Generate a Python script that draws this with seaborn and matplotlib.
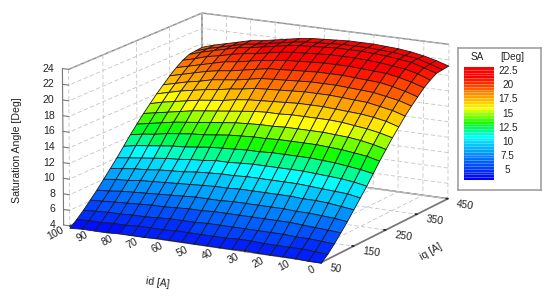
import matplotlib
matplotlib.use('Agg')
import matplotlib.pyplot as plt
from matplotlib.transforms import blended_transform_factory
from mpl_toolkits.mplot3d import proj3d
import seaborn as sns
import numpy as np

id_values = [100, 95, 90, 85, 80, 75, 70, 65, 60, 55, 50, 45, 40, 35, 30, 25, 20, 15, 10, 5, 0]
iq_values = [50, 70, 90, 110, 130, 150, 170, 190, 210, 230, 250, 270, 290, 310, 330, 350, 370, 390, 410, 430, 450]

# one row per iq, one column per id
saturation_angle = [
    [3.7, 3.8, 3.8, 3.8, 3.9, 3.9, 3.9, 4.0, 4.0, 4.0, 4.0, 4.0, 4.0, 4.0, 4.1, 4.0, 4.0, 4.0, 4.0, 3.9, 3.9],
    [4.4, 4.5, 4.5, 4.6, 4.6, 4.7, 4.7, 4.7, 4.8, 4.8, 4.8, 4.8, 4.8, 4.9, 4.9, 4.8, 4.8, 4.8, 4.8, 4.7, 4.6],
    [5.2, 5.3, 5.4, 5.4, 5.5, 5.5, 5.6, 5.7, 5.7, 5.7, 5.8, 5.8, 5.8, 5.8, 5.8, 5.8, 5.8, 5.7, 5.7, 5.6, 5.5],
    [6.1, 6.2, 6.3, 6.4, 6.5, 6.6, 6.6, 6.7, 6.8, 6.8, 6.9, 6.9, 6.9, 6.9, 6.9, 6.9, 6.9, 6.8, 6.7, 6.6, 6.5],
    [7.0, 7.1, 7.3, 7.4, 7.5, 7.6, 7.7, 7.8, 7.9, 7.9, 7.9, 8.0, 8.0, 8.0, 8.0, 8.0, 7.9, 7.9, 7.8, 7.7, 7.5],
    [8.0, 8.2, 8.3, 8.5, 8.6, 8.7, 8.8, 8.9, 9.0, 9.1, 9.1, 9.2, 9.2, 9.2, 9.2, 9.2, 9.1, 9.1, 9.0, 8.8, 8.6],
    [9.0, 9.2, 9.4, 9.5, 9.7, 9.8, 9.9, 10.1, 10.2, 10.3, 10.3, 10.4, 10.4, 10.4, 10.4, 10.4, 10.3, 10.2, 10.1, 10.0, 9.7],
    [10.0, 10.2, 10.4, 10.6, 10.8, 10.9, 11.1, 11.2, 11.4, 11.4, 11.5, 11.6, 11.6, 11.6, 11.6, 11.6, 11.5, 11.4, 11.3, 11.1, 10.8],
    [11.1, 11.4, 11.6, 11.8, 12.0, 12.1, 12.3, 12.5, 12.6, 12.7, 12.8, 12.8, 12.9, 12.9, 12.9, 12.9, 12.8, 12.7, 12.5, 12.3, 12.0],
    [12.2, 12.5, 12.7, 13.0, 13.2, 13.4, 13.5, 13.7, 13.9, 14.0, 14.1, 14.1, 14.2, 14.2, 14.2, 14.2, 14.1, 14.0, 13.8, 13.6, 13.2],
    [13.2, 13.5, 13.8, 14.1, 14.3, 14.5, 14.7, 14.9, 15.1, 15.2, 15.3, 15.3, 15.4, 15.4, 15.4, 15.4, 15.3, 15.2, 15.0, 14.7, 14.3],
    [14.2, 14.5, 14.8, 15.1, 15.4, 15.6, 15.8, 16.0, 16.2, 16.4, 16.5, 16.5, 16.6, 16.6, 16.6, 16.6, 16.5, 16.3, 16.1, 15.8, 15.4],
    [15.1, 15.5, 15.8, 16.1, 16.4, 16.6, 16.8, 17.1, 17.3, 17.4, 17.5, 17.6, 17.7, 17.7, 17.7, 17.6, 17.5, 17.4, 17.2, 16.9, 16.4],
    [16.0, 16.4, 16.8, 17.1, 17.4, 17.6, 17.9, 18.1, 18.4, 18.5, 18.6, 18.7, 18.8, 18.8, 18.8, 18.7, 18.6, 18.5, 18.2, 17.9, 17.4],
    [16.8, 17.2, 17.6, 17.9, 18.3, 18.5, 18.7, 19.0, 19.3, 19.4, 19.5, 19.6, 19.7, 19.7, 19.7, 19.6, 19.5, 19.4, 19.1, 18.8, 18.3],
    [17.6, 18.0, 18.4, 18.8, 19.1, 19.3, 19.6, 19.9, 20.2, 20.3, 20.4, 20.5, 20.6, 20.6, 20.6, 20.5, 20.4, 20.3, 20.0, 19.6, 19.1],
    [18.3, 18.7, 19.1, 19.5, 19.9, 20.1, 20.4, 20.7, 20.9, 21.1, 21.2, 21.3, 21.4, 21.4, 21.4, 21.3, 21.2, 21.1, 20.8, 20.4, 19.9],
    [18.9, 19.3, 19.8, 20.1, 20.5, 20.8, 21.0, 21.3, 21.6, 21.8, 21.9, 22.0, 22.1, 22.1, 22.1, 22.0, 21.9, 21.7, 21.5, 21.1, 20.5],
    [19.3, 19.8, 20.2, 20.6, 21.0, 21.2, 21.5, 21.8, 22.1, 22.3, 22.4, 22.5, 22.6, 22.6, 22.6, 22.5, 22.4, 22.2, 22.0, 21.5, 21.0],
    [19.4, 19.9, 20.3, 20.7, 21.1, 21.3, 21.6, 21.9, 22.2, 22.4, 22.5, 22.6, 22.7, 22.7, 22.7, 22.6, 22.5, 22.3, 22.1, 21.6, 21.1],
    [19.5, 20.0, 20.4, 20.8, 21.2, 21.4, 21.7, 22.0, 22.3, 22.5, 22.6, 22.7, 22.8, 22.8, 22.8, 22.7, 22.6, 22.4, 22.1, 21.7, 21.2],
]

id_ticks = [100, 90, 80, 70, 60, 50, 40, 30, 20, 10, 0]
iq_ticks = [50, 150, 250, 350, 450]
z_ticks = [4, 6, 8, 10, 12, 14, 16, 18, 20, 22, 24]
legend_levels = [23.0 - 0.5 * i for i in range(40)]
legend_ticks = [22.5, 20, 17.5, 15, 12.5, 10, 7.5, 5]

sns.set_theme(style='white')
plt.rcParams['font.family'] = ['Liberation Sans', 'DejaVu Sans']
TEXT = '#222222'
AXIS_GREY = '#777777'
Z_MIN, Z_MAX = 3.5, 23.0


def frac(z):
    return (z - Z_MIN) / (Z_MAX - Z_MIN)


cmap = matplotlib.colors.LinearSegmentedColormap.from_list('sa', [
    (0.0, '#0000ff'), (frac(7.5), '#0080ff'), (frac(11), '#00ffff'), (frac(13.3), '#00ff00'),
    (frac(16), '#ffff00'), (frac(18.5), '#ff8c00'), (frac(21.5), '#ff0000'), (1.0, '#ff0000')])


def band_colour(z):
    # 0.5 deg colour bands, same as the legend
    return cmap(frac(np.round(np.asarray(z) * 2) / 2))


fig = plt.figure(figsize=(5.5, 2.96), dpi=100)
ax = fig.add_axes([-0.0795, -0.1705, 1.085, 1.393], projection='3d')

X, Y = np.meshgrid(id_values, iq_values)
Z = np.array(saturation_angle)
cells = (Z[:-1, :-1] + Z[1:, :-1] + Z[:-1, 1:] + Z[1:, 1:]) / 4
ax.plot_surface(X, Y, Z, facecolors=band_colour(cells), edgecolor='#1a1a1a', linewidth=0.6,
                shade=False, rstride=1, cstride=1, antialiased=True)

ax.set_xlim(100, 0)
ax.set_ylim(50, 450)
ax.set_zlim(4, 24)
ax.set_proj_type('persp', focal_length=3)
ax.view_init(elev=14.5, azim=-61.5)
ax.set_box_aspect((286, 275, 162), zoom=1.0)

for axis in (ax.xaxis, ax.yaxis, ax.zaxis):
    axis.set_pane_color((1, 1, 1, 1))
    axis.pane.set_edgecolor('#8a8a8a')
    axis._axinfo['grid'].update(color='#c4c4c4', linewidth=0.6, linestyle=(0, (5, 3)))
    axis.line.set_color(AXIS_GREY)
    axis._axinfo['tick'].update(inward_factor=0.0, outward_factor=0.08)

ax.set_xticks(id_ticks)
ax.set_yticks(iq_ticks)
ax.set_zticks(z_ticks)
ax.set_xticklabels(id_ticks, rotation=28, fontsize=7.6, color=TEXT, ha='right', va='center')
ax.set_yticklabels(iq_ticks, rotation=-8, fontsize=7.6, color=TEXT, ha='left', va='center')
ax.tick_params(axis='x', pad=-3)
ax.tick_params(axis='y', pad=-3)

# the z scale sits on the left corner of the box, mplot3d would put it on the right
ax.set_zticklabels([])
ax.zaxis.line.set_visible(False)
ax.zaxis._axinfo['tick'].update(inward_factor=0.0, outward_factor=0.0)
ax.plot([102.5, 102.5], [50, 50], [z_ticks[0], z_ticks[-1]], color=AXIS_GREY, linewidth=0.8)
fig.canvas.draw()
for z in z_ticks:
    ax.plot([100, 102.5], [50, 50], [z, z], color=AXIS_GREY, linewidth=0.8)
    px, py, _ = proj3d.proj_transform(102.5, 50, z, ax.get_proj())
    ax.annotate(str(z), (px, py), xytext=(-6, 0), textcoords='offset points', ha='right', va='center',
                fontsize=7.6, color=TEXT, annotation_clip=False)

fig.text(158 / 550, 1 - 283 / 296, 'id [A]', fontsize=7.6, color=TEXT, rotation=-8, ha='center', va='center')
fig.text(431 / 550, 1 - 252 / 296, 'iq [A]', fontsize=7.6, color=TEXT, rotation=30, ha='center', va='center')
fig.text(17 / 550, 1 - 150 / 296, 'Saturation Angle [Deg]', fontsize=7.6, color=TEXT, rotation=90,
         ha='center', va='center')

# legend box
box = fig.add_axes([458 / 550, 1 - 190 / 296, 83 / 550, 142 / 296])
box.set_xticks([])
box.set_yticks([])
box.set_facecolor('white')
for spine in box.spines.values():
    spine.set_color('#a0a0a0')
    spine.set_linewidth(1.2)
box.text(0.23, 0.937, 'SA', ha='center', va='center', fontsize=7.2, color=TEXT, transform=box.transAxes)
box.text(0.65, 0.937, '[Deg]', ha='center', va='center', fontsize=7.2, color=TEXT, transform=box.transAxes)

bar = fig.add_axes([464 / 550, 1 - 180 / 296, 30 / 550, 113 / 296])
sns.heatmap(np.array(legend_levels).reshape(-1, 1), ax=bar, cmap=cmap, vmin=Z_MIN, vmax=Z_MAX, cbar=False,
            xticklabels=False, yticklabels=False, linewidths=0)
bar.hlines(np.arange(1, len(legend_levels)), 0, 1, color='white', alpha=0.35, linewidth=0.6)
label_trans = blended_transform_factory(box.transAxes, bar.transData)
for i, level in enumerate(legend_levels):
    if level in legend_ticks:
        box.text(0.60, i + 0.5, f'{level:g}', ha='center', va='center', fontsize=7.2, color=TEXT,
                 transform=label_trans)

fig.savefig('out.png', dpi=100, facecolor='white')
plt.close(fig)
